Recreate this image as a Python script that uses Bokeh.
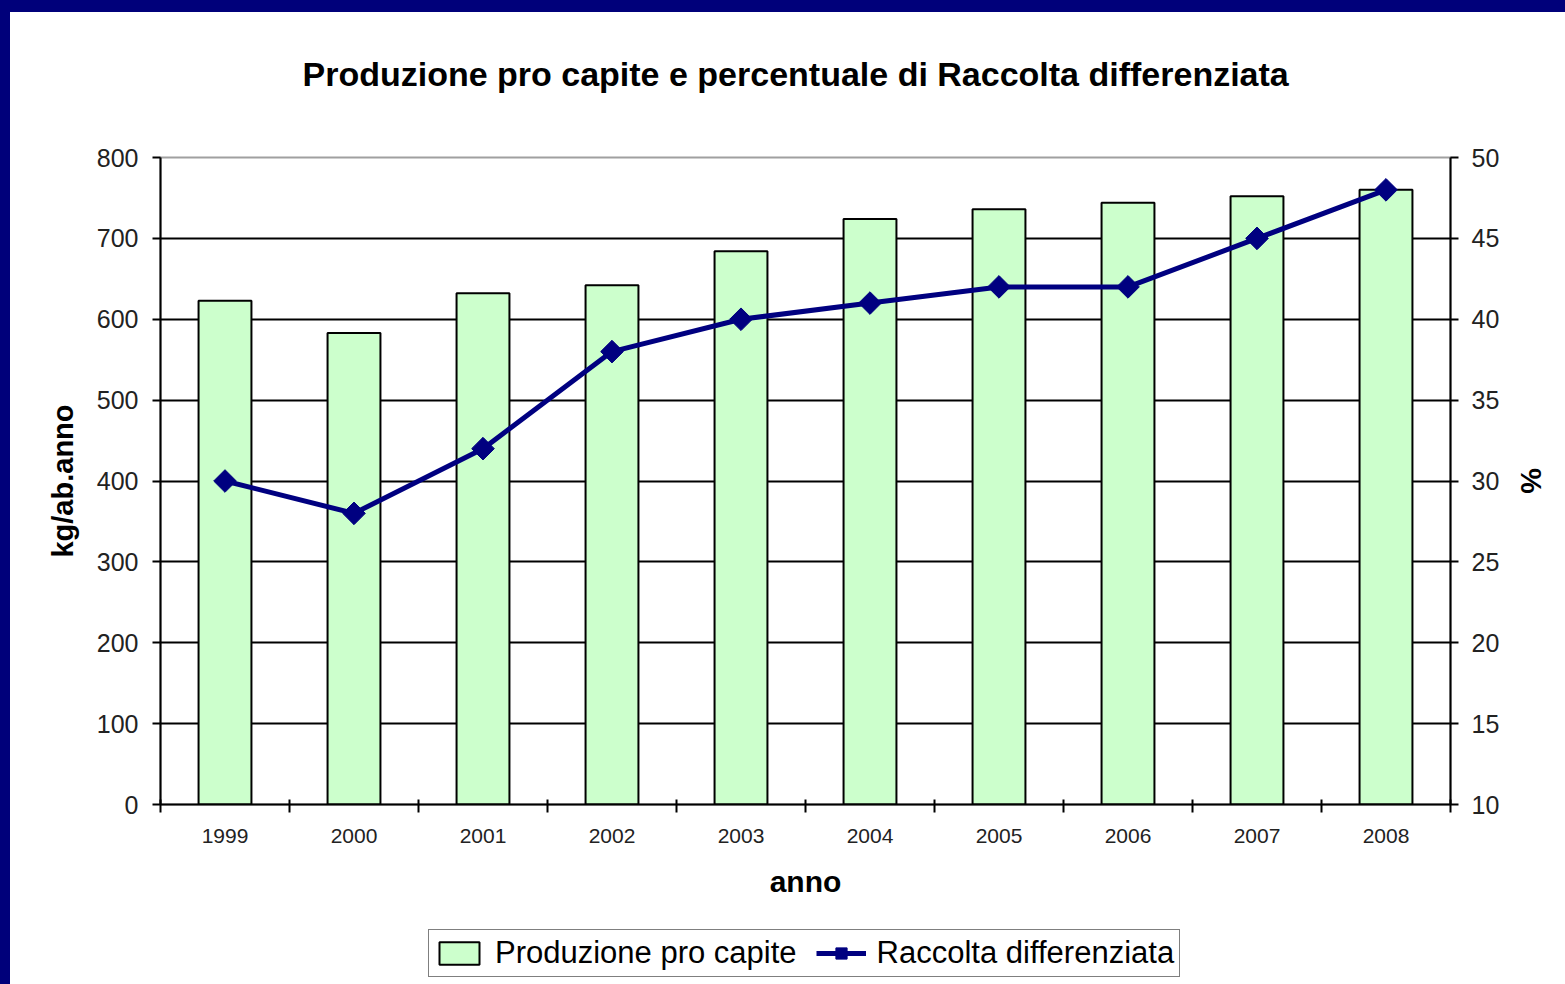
import math
from bokeh.plotting import figure
from bokeh.layouts import column
from bokeh.models import (Range1d, LinearAxis, FixedTicker, Legend, LegendItem, Title,
                          ColumnDataSource, GlobalInlineStyleSheet)
from bokeh.embed import file_html
from bokeh.resources import INLINE

# ---- data ----
years = ["1999", "2000", "2001", "2002", "2003", "2004", "2005", "2006", "2007", "2008"]
produzione = [623, 583, 632, 642, 684, 724, 736, 744, 752, 760]
raccolta = [30, 28, 32, 38, 40, 41, 42, 42, 45, 48]
left_ticks = [0, 100, 200, 300, 400, 500, 600, 700, 800]
right_ticks = [10, 15, 20, 25, 30, 35, 40, 45, 50]
title_text = "Produzione pro capite e percentuale di Raccolta differenziata"
label_prod = "Produzione pro capite"
label_racc = "Raccolta differenziata"

FONT = "Liberation Sans"
NAVY = "#000080"
GREEN = "#ccffcc"

centers = [i + 0.5 for i in range(len(years))]
bounds = list(range(len(years) + 1))
src = ColumnDataSource(dict(x=centers, prod=produzione, rac=raccolta, year=years))

# ---- title strip ----
tf = figure(width=1565, height=145, output_backend="svg", toolbar_location=None,
            x_axis_type=None, y_axis_type=None, min_border_left=160,
            min_border_right=115, min_border_top=0, min_border_bottom=0,
            outline_line_color=None, background_fill_alpha=0, border_fill_alpha=0,
            title=None)
tf.add_layout(Title(text=title_text, align="left", offset=142, text_font=FONT,
                    text_font_size="34px", text_font_style="bold", text_color="black",
                    standoff=104), "above")
tf.stylesheets = [GlobalInlineStyleSheet(css=(
    "html, body { background: linear-gradient(to bottom, #00007a 12px, transparent 12px),"
    " linear-gradient(to right, #00007a 10px, #ffffff 10px); }"))]

# ---- main chart ----
p = figure(width=1565, height=767, output_backend="svg", toolbar_location=None,
           x_range=Range1d(0, len(years)), y_range=Range1d(left_ticks[0], left_ticks[-1]),
           min_border_left=160, min_border_right=115, min_border_top=12,
           min_border_bottom=108, background_fill_color="white",
           border_fill_alpha=0, title=None)
p.extra_y_ranges = {"pct": Range1d(right_ticks[0], right_ticks[-1])}

p.outline_line_color = "#a0a0a0"
p.outline_line_width = 2
p.xgrid.visible = False
p.ygrid.ticker = FixedTicker(ticks=left_ticks[1:-1])
p.ygrid.grid_line_color = "black"
p.ygrid.grid_line_width = 2

bars = p.vbar(x="x", top="prod", bottom=0, width=0.41, source=src,
              fill_color=GREEN, line_color="black", line_width=2)
line = p.line(x="x", y="rac", source=src, y_range_name="pct",
              line_color=NAVY, line_width=5)
pts = p.scatter(x="x", y="rac", source=src, y_range_name="pct", marker="square",
                size=16, angle=math.pi / 4, fill_color=NAVY, line_color=NAVY)

# x axis
xa = p.xaxis[0]
xa.ticker = FixedTicker(ticks=centers, minor_ticks=bounds)
xa.major_label_overrides = {c: y for c, y in zip(centers, years)}
xa.major_tick_line_color = None
xa.major_tick_out = 0
xa.major_tick_in = 0
xa.minor_tick_out = 8
xa.minor_tick_in = 5
xa.minor_tick_line_width = 2
xa.minor_tick_line_color = "black"
xa.axis_line_color = "black"
xa.axis_line_width = 2
xa.major_label_text_font = FONT
xa.major_label_text_font_size = "21px"
xa.major_label_text_color = "#222222"
xa.major_label_standoff = 16
xa.axis_label = "anno"
xa.axis_label_text_font = FONT
xa.axis_label_text_font_size = "30px"
xa.axis_label_text_font_style = "bold"
xa.axis_label_text_color = "black"
xa.axis_label_standoff = 19

# left axis
ya = p.yaxis[0]
ya.ticker = FixedTicker(ticks=left_ticks)
ya.minor_tick_line_color = None
ya.major_tick_out = 8
ya.major_tick_in = 0
ya.major_tick_line_width = 2
ya.major_tick_line_color = "black"
ya.axis_line_color = "black"
ya.axis_line_width = 2
ya.major_label_text_font = FONT
ya.major_label_text_font_size = "25px"
ya.major_label_text_color = "#222222"
ya.major_label_standoff = 14
ya.axis_label = "kg/ab.anno"
ya.axis_label_text_font = FONT
ya.axis_label_text_font_size = "29px"
ya.axis_label_text_font_style = "bold"
ya.axis_label_text_color = "black"
ya.axis_label_standoff = 15

# right axis
ra = LinearAxis(y_range_name="pct", ticker=FixedTicker(ticks=right_ticks))
ra.minor_tick_line_color = None
ra.major_tick_out = 8
ra.major_tick_in = 0
ra.major_tick_line_width = 2
ra.major_tick_line_color = "black"
ra.axis_line_color = "black"
ra.axis_line_width = 2
ra.major_label_text_font = FONT
ra.major_label_text_font_size = "25px"
ra.major_label_text_color = "#222222"
ra.major_label_standoff = 13
ra.axis_label = "%"
ra.axis_label_text_font = FONT
ra.axis_label_text_font_size = "29px"
ra.axis_label_text_font_style = "bold"
ra.axis_label_text_color = "black"
ra.axis_label_standoff = 13
p.add_layout(ra, "right")

# ---- legend strip below the chart ----
lf = figure(width=1565, height=72, output_backend="svg", toolbar_location=None,
            x_axis_type=None, y_axis_type=None, min_border_left=160,
            min_border_right=115, min_border_top=0, min_border_bottom=0,
            outline_line_color=None, background_fill_alpha=0, border_fill_alpha=0)
for g in list(lf.center):
    g.visible = False
lbars = lf.vbar(x="x", top="prod", bottom=0, width=0.41, source=src,
                fill_color=GREEN, line_color="black", line_width=2, visible=False)
lline = lf.line(x="x", y="rac", source=src, line_color=NAVY, line_width=5,
                visible=False)
lpts = lf.scatter(x="x", y="rac", source=src, marker="square", size=16,
                  angle=math.pi / 4, fill_color=NAVY, line_color=NAVY, visible=False)

legend = Legend(items=[LegendItem(label=label_prod, renderers=[lbars]),
                       LegendItem(label=label_racc, renderers=[lline, lpts])],
                orientation="horizontal", location=(268, 7),
                border_line_color="black", border_line_width=1.5,
                label_text_font=FONT, label_text_font_size="31px",
                label_text_color="black", inactive_fill_alpha=0,
                glyph_width=50, glyph_height=28, padding=5, spacing=19,
                label_standoff=11, margin=0, background_fill_color="white",
                background_fill_alpha=1)
lf.add_layout(legend)

open("out.html", "w").write(file_html(column(tf, p, lf, spacing=0), INLINE))
